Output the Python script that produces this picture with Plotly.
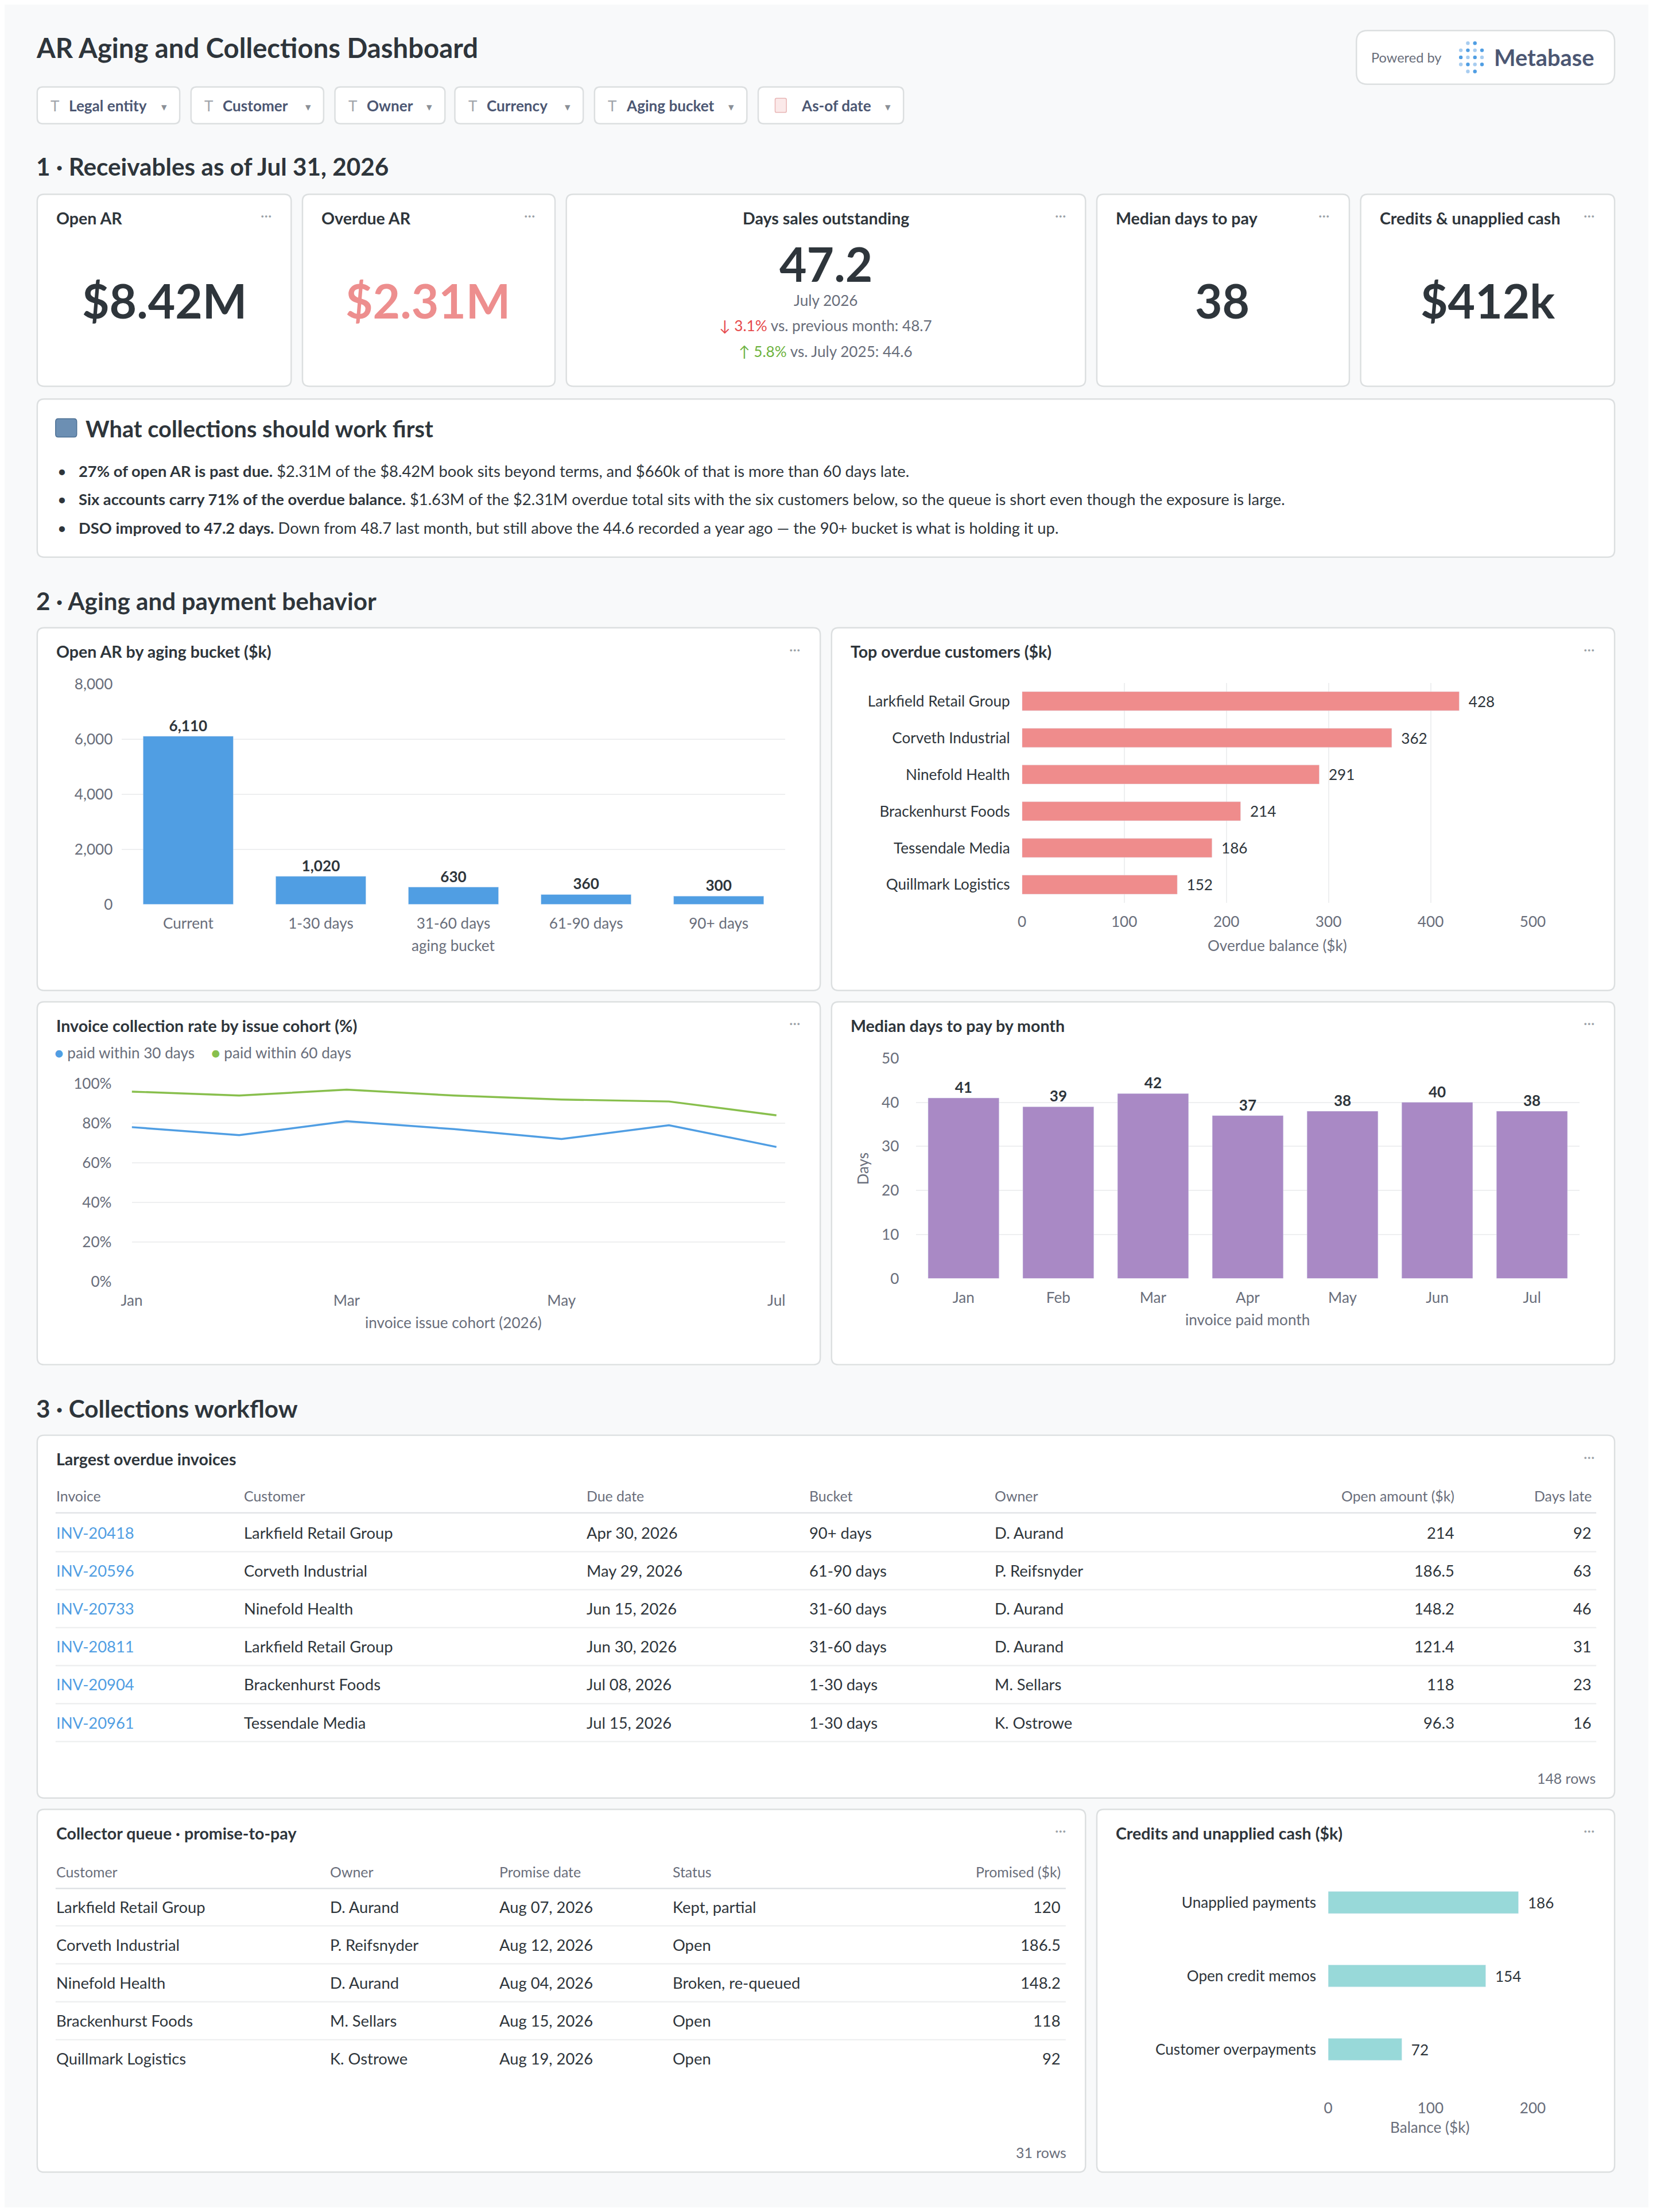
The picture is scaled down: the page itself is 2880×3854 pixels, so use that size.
import plotly.graph_objects as go

W0, H0 = 1172, 1568
S = 2880 / W0
FW, FH = 2864, 3838
FONT = "Lato"
DARK = "#2e353b"
GREY = "#696e7b"
BORDER = "#dcdfe0"
BLUE = "#509ee3"

# ---------------- data ----------------
aging_buckets = ["Current", "1-30 days", "31-60 days", "61-90 days", "90+ days"]
aging_values = [6110, 1020, 630, 360, 300]

top_customers = ["Larkfield Retail Group", "Corveth Industrial", "Ninefold Health",
                 "Brackenhurst Foods", "Tessendale Media", "Quillmark Logistics"]
top_overdue = [428, 362, 291, 214, 186, 152]

cohort_months = ["Jan", "Feb", "Mar", "Apr", "May", "Jun", "Jul"]
paid_30 = [78, 74, 81, 77, 72, 79, 68]
paid_60 = [96, 94, 97, 94, 92, 91, 84]

pay_months = ["Jan", "Feb", "Mar", "Apr", "May", "Jun", "Jul"]
median_days = [41, 39, 42, 37, 38, 40, 38]

credit_types = ["Unapplied payments", "Open credit memos", "Customer overpayments"]
credit_values = [186, 154, 72]

inv_cols = ["Invoice", "Customer", "Due date", "Bucket", "Owner", "Open amount ($k)", "Days late"]
inv_rows = [
    ["INV-20418", "Larkfield Retail Group", "Apr 30, 2026", "90+ days", "D. Aurand", "214", "92"],
    ["INV-20596", "Corveth Industrial", "May 29, 2026", "61-90 days", "P. Reifsnyder", "186.5", "63"],
    ["INV-20733", "Ninefold Health", "Jun 15, 2026", "31-60 days", "D. Aurand", "148.2", "46"],
    ["INV-20811", "Larkfield Retail Group", "Jun 30, 2026", "31-60 days", "D. Aurand", "121.4", "31"],
    ["INV-20904", "Brackenhurst Foods", "Jul 08, 2026", "1-30 days", "M. Sellars", "118", "23"],
    ["INV-20961", "Tessendale Media", "Jul 15, 2026", "1-30 days", "K. Ostrowe", "96.3", "16"],
]
queue_cols = ["Customer", "Owner", "Promise date", "Status", "Promised ($k)"]
queue_rows = [
    ["Larkfield Retail Group", "D. Aurand", "Aug 07, 2026", "Kept, partial", "120"],
    ["Corveth Industrial", "P. Reifsnyder", "Aug 12, 2026", "Open", "186.5"],
    ["Ninefold Health", "D. Aurand", "Aug 04, 2026", "Broken, re-queued", "148.2"],
    ["Brackenhurst Foods", "M. Sellars", "Aug 15, 2026", "Open", "118"],
    ["Quillmark Logistics", "K. Ostrowe", "Aug 19, 2026", "Open", "92"],
]

# ---------------- helpers ----------------
def X(x):
    c = 26 + (x - 34) / 0.985
    return (c * S - 8) / FW
def Y(y):
    c = 34 + (y - 41) / 0.9907
    return 1 - (c * S - 8) / FH
def sd(v): return int(round(v * S))
FS = S * 1.012

annots, shapes = [], []

def txt(x, y, s, size, color=DARK, bold=False, xa="left", ya="middle", angle=0):
    annots.append(dict(x=X(x), y=Y(y), xref="paper", yref="paper", text=f"<b>{s}</b>" if bold else s,
                       showarrow=False, xanchor=xa, yanchor=ya, textangle=angle, borderpad=0,
                       font=dict(family=FONT, size=size * FS, color=color)))

def rrect(x0, y0, x1, y1, r=4, fill="white", line=BORDER, lw=1):
    rx, ry = r * S / FW, r * S / FH
    a0, a1, b0, b1 = X(x0), X(x1), Y(y1), Y(y0)
    p = (f"M{a0+rx},{b0} L{a1-rx},{b0} Q{a1},{b0} {a1},{b0+ry} L{a1},{b1-ry} Q{a1},{b1} {a1-rx},{b1} "
         f"L{a0+rx},{b1} Q{a0},{b1} {a0},{b1-ry} L{a0},{b0+ry} Q{a0},{b0} {a0+rx},{b0} Z")
    shapes.append(dict(type="path", path=p, xref="paper", yref="paper", fillcolor=fill,
                       line=dict(color=line, width=lw * S), layer="below"))

def hline(x0, x1, y, color="#eeeff0", w=1):
    shapes.append(dict(type="line", x0=X(x0), x1=X(x1), y0=Y(y), y1=Y(y), xref="paper", yref="paper",
                       line=dict(color=color, width=w * S)))

def card(x0, y0, x1, y1, title=None, center=False):
    rrect(x0, y0, x1, y1, r=5)
    if title:
        if center:
            txt((x0 + x1) / 2, y0 + 17, title, 11.5, bold=True, xa="center")
        else:
            txt(x0 + 13, y0 + 17, title, 11.5, bold=True)
    txt(x1 - 18, y0 + 15, "···", 10, "#9aa0a6", xa="center")

# ---------------- header ----------------
txt(26, 34, "AR Aging and Collections Dashboard", 19, bold=True)
rrect(962, 22, 1145, 60, r=8)
txt(972, 41, "Powered by", 9.5, GREY)
for c in range(4):
    for r in range(5):
        if (c in (0, 3) and r in (0, 4)):
            continue
        cx, cy = 1036 + c * 5, 31 + r * 5
        shapes.append(dict(type="circle", xref="paper", yref="paper", x0=X(cx - 1.3), x1=X(cx + 1.3),
                           y0=Y(cy + 1.3), y1=Y(cy - 1.3), fillcolor=BLUE if (c + r) % 2 == 0 else "#a8cdf0",
                           line=dict(width=0)))
txt(1059, 41, "Metabase", 16, "#4c5773", bold=True)

chips = [("Legal entity", 27, 128), ("Customer", 136, 230), ("Owner", 238, 316),
         ("Currency", 323, 414), ("Aging bucket", 422, 530), ("As-of date", 538, 641)]
for label, a, b in chips:
    rrect(a, 62, b, 88, r=4)
    if label == "As-of date":
        rrect(a + 12, 70, a + 20, 80, r=1, fill="#fbe9e9", line="#e8b4b4", lw=0.6)
        txt(a + 30, 75, label, 10.5, "#4c5773", bold=True)
    else:
        txt(a + 9, 75, "T", 10.5, "#a0a5ab")
        txt(a + 22, 75, label, 10.5, "#4c5773", bold=True)
    txt(b - 11, 76, "▾", 7.5, "#8a8f96", xa="center")

# ---------------- section 1 ----------------
txt(26, 118, "1 · Receivables as of Jul 31, 2026", 17, bold=True)
card(27, 138, 207, 274, "Open AR")
txt(117, 213, "$8.42M", 33, bold=True, xa="center")
card(215, 138, 394, 274, "Overdue AR")
txt(304, 213, "$2.31M", 33, "#ed8e8e", bold=True, xa="center")
card(402, 138, 770, 274, "Days sales outstanding", center=True)
txt(586, 187, "47.2", 33, bold=True, xa="center")
txt(586, 213, "July 2026", 10.5, GREY, xa="center")
txt(586, 231, "<span style='color:#e6494b'>↓ 3.1%</span> vs. previous month: 48.7", 10.5, GREY, xa="center")
txt(586, 249, "<span style='color:#6eb33f'>↑ 5.8%</span> vs. July 2025: 44.6", 10.5, GREY, xa="center")
card(778, 138, 957, 274, "Median days to pay")
txt(867, 213, "38", 33, bold=True, xa="center")
card(965, 138, 1145, 274, "Credits & unapplied cash")
txt(1055, 213, "$412k", 33, bold=True, xa="center")

# insights
rrect(27, 283, 1145, 395, r=5)
rrect(40, 297, 55, 310, r=2, fill="#6c8fb3", line="#4c6f93", lw=0.6)
txt(61, 304, "What collections should work first", 16, bold=True)
bullets = [
    "<b>27% of open AR is past due.</b> $2.31M of the $8.42M book sits beyond terms, and $660k of that is more than 60 days late.",
    "<b>Six accounts carry 71% of the overdue balance.</b> $1.63M of the $2.31M overdue total sits with the six customers below, so the queue is short even though the exposure is large.",
    "<b>DSO improved to 47.2 days.</b> Down from 48.7 last month, but still above the 44.6 recorded a year ago — the 90+ bucket is what is holding it up.",
]
for i, b in enumerate(bullets):
    y = 334 + 20 * i
    txt(41, y, "•", 11)
    txt(56, y, b, 11)

# ---------------- section 2 ----------------
txt(26, 426, "2 · Aging and payment behavior", 17, bold=True)
card(27, 445, 582, 702, "Open AR by aging bucket ($k)")
card(590, 445, 1145, 702, "Top overdue customers ($k)")
card(27, 710, 582, 967, "Invoice collection rate by issue cohort (%)")
card(590, 710, 1145, 967, "Median days to pay by month")
txt(39, 746, f"<span style='color:{BLUE}'>●</span> paid within 30 days", 10.5, GREY)
txt(150, 746, "<span style='color:#88bf4d'>●</span> paid within 60 days", 10.5, GREY)
txt(322, 670, "aging bucket", 10.5, GREY, xa="center")
txt(906, 670, "Overdue balance ($k)", 10.5, GREY, xa="center")
txt(322, 937, "invoice issue cohort (2026)", 10.5, GREY, xa="center")
txt(885, 935, "invoice paid month", 10.5, GREY, xa="center")
txt(612, 828, "Days", 10.5, GREY, xa="center", angle=-90)

# ---------------- section 3 ----------------
txt(26, 998, "3 · Collections workflow", 17, bold=True)
card(27, 1017, 1145, 1274, "Largest overdue invoices")
inv_x = [40, 173, 416, 574, 705, 1032, 1129]
inv_al = ["left"] * 5 + ["right", "right"]
for j, c in enumerate(inv_cols):
    txt(inv_x[j], 1060, c, 10, GREY, xa=inv_al[j])
hline(40, 1132, 1072, "#dfe2e5")
for i, row in enumerate(inv_rows):
    y = 1086 + 26.9 * i
    for j, v in enumerate(row):
        txt(inv_x[j], y, v, 11, BLUE if j == 0 else DARK, xa=inv_al[j])
    hline(40, 1132, y + 13.5)
txt(1132, 1260, "148 rows", 10, GREY, xa="right")

card(27, 1282, 770, 1539, "Collector queue · promise-to-pay")
q_x = [40, 234, 354, 477, 753]
q_al = ["left"] * 4 + ["right"]
for j, c in enumerate(queue_cols):
    txt(q_x[j], 1326, c, 10, GREY, xa=q_al[j])
hline(40, 756, 1338, "#dfe2e5")
for i, row in enumerate(queue_rows):
    y = 1351 + 26.9 * i
    for j, v in enumerate(row):
        txt(q_x[j], y, v, 11, xa=q_al[j])
    if i < len(queue_rows) - 1:
        hline(40, 756, y + 13.5)
txt(757, 1525, "31 rows", 10, GREY, xa="right")

card(778, 1282, 1145, 1539, "Credits and unapplied cash ($k)")
txt(1014, 1507, "Balance ($k)", 10.5, GREY, xa="center")

# ---------------- charts ----------------
fig = go.Figure()
tickf = dict(family=FONT, size=10.5 * FS, color=GREY)
lblf = dict(family=FONT, size=10.5 * FS, color=DARK)
GRID = "#eeeff0"

def dx(a, b): return [X(a), X(b)]
def dy(top, bot): return [Y(bot), Y(top)]

fig.add_trace(go.Bar(x=aging_buckets, y=aging_values, marker_color=BLUE, width=0.68,
                     text=[f"<b>{v:,}</b>" for v in aging_values], textposition="outside", cliponaxis=False,
                     textfont=lblf, xaxis="x", yaxis="y"))
fig.add_trace(go.Bar(y=top_customers, x=top_overdue, orientation="h", marker_color="#ef8c8c", width=0.52,
                     text=[f"  {v}" for v in top_overdue], textposition="outside", cliponaxis=False,
                     textfont=lblf, xaxis="x2", yaxis="y2"))
fig.add_trace(go.Scatter(x=cohort_months, y=paid_30, mode="lines", line=dict(color=BLUE, width=1.4 * S),
                         xaxis="x3", yaxis="y3"))
fig.add_trace(go.Scatter(x=cohort_months, y=paid_60, mode="lines", line=dict(color="#88bf4d", width=1.4 * S),
                         xaxis="x3", yaxis="y3"))
fig.add_trace(go.Bar(x=pay_months, y=median_days, marker_color="#a989c5", width=0.75,
                     text=[f"<b>{v}</b>" for v in median_days], textposition="outside", cliponaxis=False,
                     textfont=lblf, xaxis="x4", yaxis="y4"))
fig.add_trace(go.Bar(y=credit_types, x=credit_values, orientation="h", marker_color="#98d9d9", width=0.3,
                     text=[f"  {v}" for v in credit_values], textposition="outside", cliponaxis=False,
                     textfont=lblf, xaxis="x5", yaxis="y5"))

ax = dict(showline=False, zeroline=False, tickfont=tickf, fixedrange=True, ticks="")
fig.update_layout(
    xaxis=dict(ax, domain=dx(87, 557), range=[-0.5, 4.5], anchor="y", showgrid=False, ticklabelstandoff=sd(6)),
    yaxis=dict(ax, domain=dy(485, 641), range=[0, 8000], tickvals=[0, 2000, 4000, 6000, 8000],
               tickformat=",", gridcolor=GRID, gridwidth=S, anchor="x", ticklabelstandoff=sd(6)),
    xaxis2=dict(ax, domain=dx(725, 1087), range=[0, 500], dtick=100, gridcolor=GRID, gridwidth=S,
                anchor="y2", ticklabelstandoff=sd(6)),
    yaxis2=dict(ax, domain=dy(484, 640), range=[5.5, -0.5], anchor="x2", showgrid=False,
                tickfont=dict(family=FONT, size=10.5 * FS, color=DARK), ticklabelstandoff=sd(8)),
    xaxis3=dict(ax, domain=dx(94, 557), range=[0, 6.08], anchor="y3", showgrid=False,
                tickvals=["Jan", "Mar", "May", "Jul"], ticklabelstandoff=sd(6)),
    yaxis3=dict(ax, domain=dy(768, 908), range=[0, 100], dtick=20, ticksuffix="%", gridcolor=GRID,
                gridwidth=S, anchor="x3", ticklabelstandoff=sd(14)),
    xaxis4=dict(ax, domain=dx(650, 1120), range=[-0.5, 6.5], anchor="y4", showgrid=False, ticklabelstandoff=sd(6)),
    yaxis4=dict(ax, domain=dy(750, 906), range=[0, 50], dtick=10, gridcolor=GRID, gridwidth=S, anchor="x4",
                ticklabelstandoff=sd(12)),
    xaxis5=dict(ax, domain=dx(942, 1087), range=[0, 200], dtick=100, showgrid=False, anchor="y5",
                ticklabelstandoff=sd(8)),
    yaxis5=dict(ax, domain=dy(1322, 1478), range=[2.5, -0.5], anchor="x5", showgrid=False,
                tickfont=dict(family=FONT, size=10.5 * FS, color=DARK), ticklabelstandoff=sd(8)),
)

fig.update_layout(width=FW, height=FH, margin=dict(l=0, r=0, t=0, b=0), showlegend=False,
                  paper_bgcolor="#f8f9fa", plot_bgcolor="rgba(0,0,0,0)",
                  annotations=annots, shapes=shapes, font=dict(family=FONT, color=DARK))
fig.write_html("out.html", config={"displayModeBar": False})
